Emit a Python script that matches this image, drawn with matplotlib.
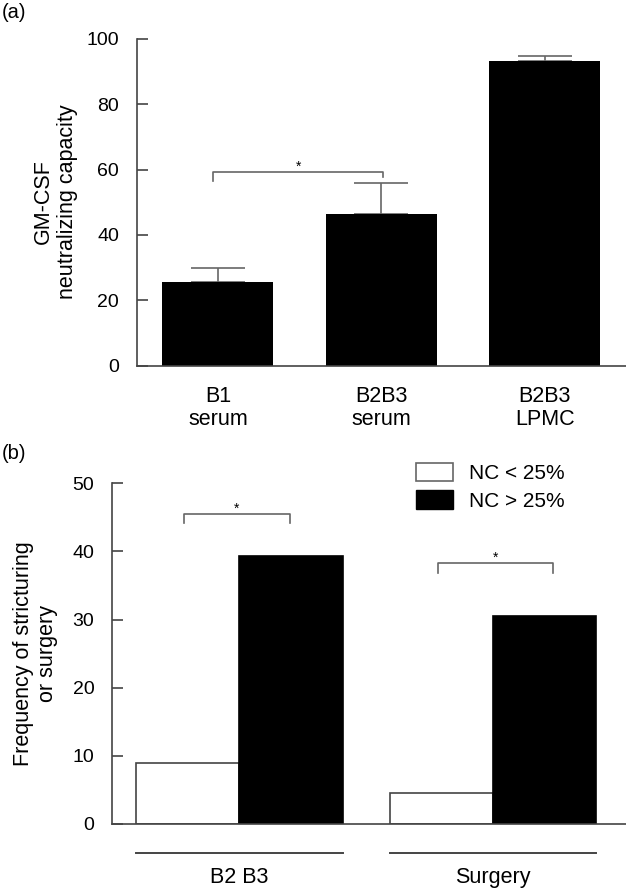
import matplotlib
matplotlib.use("Agg")
import matplotlib.pyplot as plt
from matplotlib.patches import Patch

plt.rcParams['font.family'] = ['Liberation Sans', 'DejaVu Sans']

# ---- panel (a) data ----
a_labels = ["B1\nserum", "B2B3\nserum", "B2B3\nLPMC"]
a_means = [25.5, 46.5, 93.4]
a_err_up = [4.3, 9.4, 1.3]

# ---- panel (b) data ----
b_groups = ["B2 B3", "Surgery"]
b_low = [9.0, 4.5]      # NC < 25%
b_high = [39.3, 30.5]   # NC > 25%

axis_col = "#444444"
grey = "#666666"

fig = plt.figure(figsize=(6.26, 8.9), dpi=100)

def style_axis(ax):
    ax.spines['top'].set_visible(False)
    ax.spines['right'].set_visible(False)
    for s in ['left', 'bottom']:
        ax.spines[s].set_color(axis_col)
        ax.spines[s].set_linewidth(1.2)
    ax.tick_params(axis='y', direction='in', length=8, width=1.2,
                   color=axis_col, labelsize=14, pad=13)
    ax.tick_params(axis='x', length=0)

# ---------------- panel (a) ----------------
ax1 = fig.add_axes([0.2188, 0.5893, 0.7812, 0.3669])
style_axis(ax1)
xa = list(range(len(a_labels)))
ax1.errorbar(xa, a_means, yerr=[[0] * len(a_means), a_err_up], fmt='none',
             ecolor=grey, elinewidth=1.2, capsize=19.4, capthick=1.2, zorder=1)
ax1.bar(xa, a_means, width=0.68, color='black', zorder=2)
ax1.set_xlim(-0.495, 2.496)
ax1.set_ylim(0, 100)
ax1.set_yticks([0, 20, 40, 60, 80, 100])
ax1.set_xticks(xa)
ax1.set_xticklabels(a_labels, fontsize=15.5, linespacing=1.1)
ax1.tick_params(axis='x', pad=15)

# significance bracket
ax1.plot([-0.03, -0.03, 1.01, 1.01], [56.5, 59.3, 59.3, 57.8], color=grey, lw=1.2)
ax1.text(0.49, 59.5, "*", ha='center', va='baseline', fontsize=10)

fig.text(55 / 626, 1 - 202 / 890, "GM-CSF\nneutralizing capacity", rotation=90,
         ha='center', va='center', multialignment='center', fontsize=15.5)
fig.text(2 / 626, 1 - 12 / 890, "(a)", ha='left', va='center', fontsize=14.5)

# ---------------- panel (b) ----------------
ax2 = fig.add_axes([0.1797, 0.0742, 0.8203, 0.3828])
style_axis(ax2)
w = 0.407
xb = list(range(len(b_groups)))
ax2.bar([x - w / 2 for x in xb], b_low, width=w, color='white',
        edgecolor=axis_col, linewidth=1.2, label="NC < 25%")
ax2.bar([x + w / 2 for x in xb], b_high, width=w, color='black',
        edgecolor='black', linewidth=1.2, label="NC > 25%")
ax2.set_xlim(-0.5, 1.524)
ax2.set_ylim(0, 50)
ax2.set_yticks([0, 10, 20, 30, 40, 50])
ax2.set_xticks([])

# brackets
ax2.plot([-0.22, -0.22, 0.20, 0.20], [44.2, 45.45, 45.45, 44.2], color=grey, lw=1.2)
ax2.text(-0.012, 45.6, "*", ha='center', va='baseline', fontsize=10)
ax2.plot([0.782, 0.782, 1.236, 1.236], [36.9, 38.3, 38.3, 36.9], color=grey, lw=1.2)
ax2.text(1.011, 38.45, "*", ha='center', va='baseline', fontsize=10)

# group lines and labels under the axis
trans = ax2.get_xaxis_transform()
for x, g in zip(xb, b_groups):
    ax2.plot([x - w, x + w], [-0.084, -0.084], color=axis_col, lw=1.4,
             transform=trans, clip_on=False)
    ax2.text(x, -0.156, g, transform=trans, ha='center', va='center', fontsize=15.5)

handles = [Patch(facecolor='white', edgecolor=grey, linewidth=1.2),
           Patch(facecolor='black', edgecolor='black')]
ax2.legend(handles, ["NC < 25%", "NC > 25%"], loc='upper left',
           bbox_to_anchor=(416 / 626, 1 - 463 / 890), bbox_transform=fig.transFigure,
           frameon=False, borderpad=0, borderaxespad=0, handlelength=1.78,
           handleheight=0.96, handletextpad=0.77, labelspacing=0.35, fontsize=15)

fig.text(35.5 / 626, 1 - 654 / 890, "Frequency of stricturing\nor surgery", rotation=90,
         ha='center', va='center', multialignment='center', fontsize=15.5)
fig.text(2 / 626, 1 - 453 / 890, "(b)", ha='left', va='center', fontsize=14.5)

fig.savefig("out.png", dpi=100)
